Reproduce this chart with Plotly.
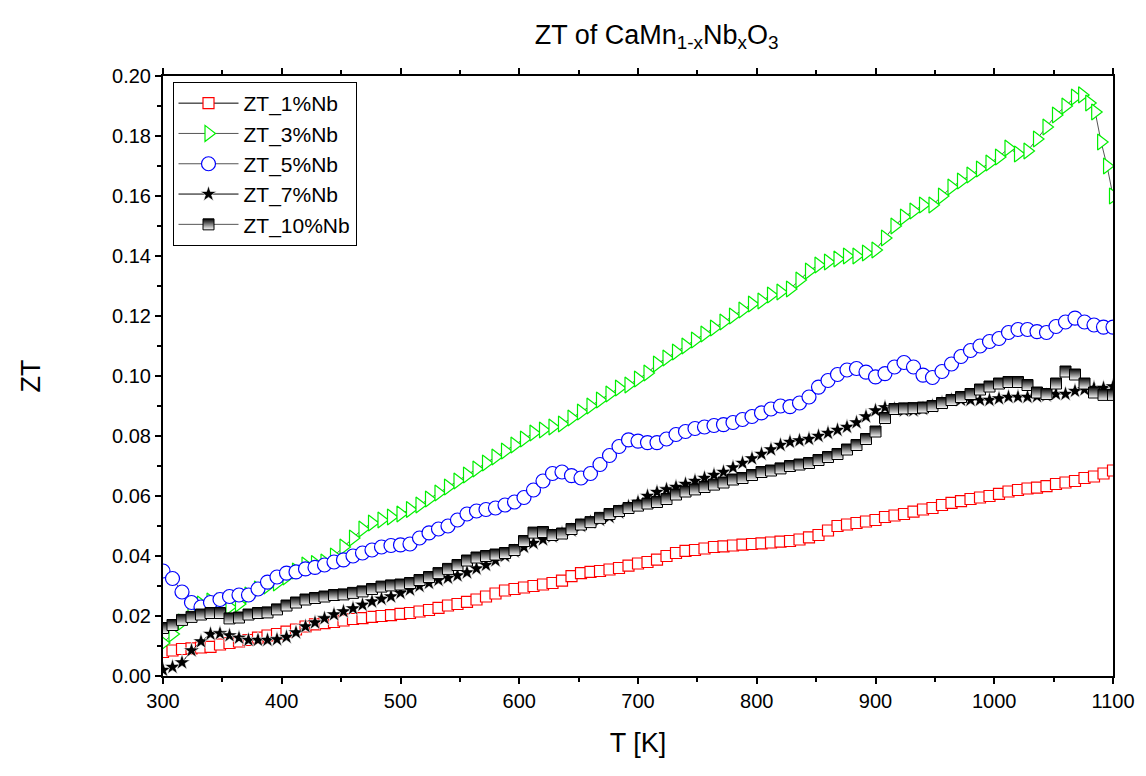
import plotly.graph_objects as go

# Temperature grid (K)
T_GRID = list(range(300, 1101, 8))
T_3_EXTRA = [1068, 1074, 1080, 1085, 1090, 1095, 1100]

ZT_1 = [.008, .0085, .009, .0092, .0095, .0097, .0105, .011, .0115, .012,
        .0128, .0135, .014, .0148, .0155, .0165, .0172, .0176, .018, .0185,
        .019, .0193, .0197, .020, .0203, .0207, .021, .0215, .022, .0227,
        .0235, .024, .0247, .0255, .0265, .0275, .0285, .029, .0295, .030,
        .0305, .031, .0318, .0333, .0343, .0347, .035, .0355, .036, .0368,
        .0375, .038, .0388, .040, .041, .0417, .042, .0425, .043, .0432,
        .0435, .0438, .044, .0442, .0445, .0448, .045, .0455, .0462, .047,
        .0485, .050, .0505, .051, .0515, .052, .053, .0535, .054, .0548,
        .0555, .056, .057, .0577, .0583, .059, .0595, .060, .0607, .0615,
        .062, .0625, .0628, .0633, .064, .0645, .065, .066, .0665, .0675,
        .0685]

ZT_3 = [.011, .014, .018, .021, .024, .025, .025, .023, .024, .027,
        .029, .030, .031, .033, .035, .037, .0375, .038, .040, .043,
        .046, .049, .051, .052, .053, .054, .0555, .057, .059, .061,
        .063, .065, .067, .069, .071, .073, .075, .077, .079, .081,
        .082, .083, .084, .086, .088, .090, .092, .094, .096, .097,
        .099, .101, .104, .106, .108, .110, .112, .114, .116, .118,
        .120, .122, .124, .125, .127, .128, .129, .132, .135, .137,
        .138, .139, .140, .140, .141, .142, .146, .150, .153, .155,
        .157, .157, .160, .163, .165, .167, .169, .171, .173, .176,
        .174, .175, .179, .183, .187, .190,
        .193, .1937, .191, .188, .178, .170, .160]

ZT_5 = [.035, .0325, .028, .0245, .023, .0245, .0255, .0265, .027, .027,
        .029, .0313, .033, .0343, .0347, .0357, .0362, .037, .038, .0387,
        .040, .041, .042, .043, .0435, .0437, .044, .046, .0477, .049,
        .050, .052, .054, .055, .0555, .056, .057, .058, .0595, .062,
        .065, .0675, .068, .0668, .066, .0675, .0705, .0735, .0765, .0787,
        .0783, .0778, .0778, .079, .0805, .0815, .0825, .083, .0835, .0838,
        .0845, .0855, .0865, .0877, .089, .090, .0898, .091, .093, .0963,
        .0985, .1005, .102, .1025, .1013, .0997, .1008, .103, .1045, .103,
        .1003, .0995, .1015, .104, .1065, .1085, .110, .1115, .1125, .1145,
        .1155, .1155, .1148, .1145, .1165, .118, .1193, .118, .117, .1163,
        .1163]

ZT_7 = [.002, .003, .0045, .0085, .0115, .014, .0142, .0135, .0127, .012,
        .012, .012, .0122, .013, .0145, .0165, .0178, .0192, .0205, .0215,
        .0225, .0237, .0248, .0257, .0265, .0277, .0288, .030, .031, .032,
        .0327, .0335, .0345, .0358, .037, .0385, .040, .0415, .043, .0443,
        .0455, .0465, .0475, .0485, .050, .0513, .052, .053, .0545, .0565,
        .058, .060, .0613, .0622, .063, .064, .065, .066, .067, .068,
        .0695, .071, .0725, .074, .0755, .077, .078, .0785, .079, .080,
        .081, .082, .083, .0845, .0865, .0885, .0895, .089, .0885, .0885,
        .089, .090, .091, .092, .092, .092, .092, .092, .0925, .093,
        .093, .093, .0932, .0935, .094, .094, .095, .0955, .096, .096,
        .0965]

ZT_10 = [.016, .017, .0187, .0197, .0205, .021, .021, .0192, .0195, .0205,
         .021, .0212, .0222, .0235, .0245, .0255, .026, .0265, .027, .0272,
         .0277, .0282, .029, .0298, .0302, .0305, .031, .032, .033, .0343,
         .0357, .037, .0385, .0395, .040, .0405, .041, .042, .045, .0478,
         .048, .047, .0475, .049, .0505, .0513, .0527, .054, .055, .056,
         .0568, .0575, .058, .059, .0605, .0615, .0622, .063, .0638, .0645,
         .0655, .066, .067, .068, .0685, .0692, .070, .0705, .071, .072,
         .073, .074, .0755, .077, .079, .0815, .086, .089, .0892, .0893,
         .0895, .090, .091, .092, .093, .094, .0955, .0965, .0975, .098,
         .098, .097, .0945, .094, .0975, .1015, .1005, .0975, .0945, .0937,
         .0937]

T_3 = T_GRID[:96] + T_3_EXTRA

FONT = "Liberation Sans, Arial, sans-serif"

fig = go.Figure()

fig.add_trace(go.Scatter(
    x=T_GRID, y=ZT_1, name="ZT_1%Nb", mode="lines+markers",
    line=dict(color="black", width=1),
    marker=dict(symbol="square", size=11, color="white",
                line=dict(color="#ff0000", width=1.2)),
    legendgroup="a"))

fig.add_trace(go.Scatter(
    x=T_3, y=ZT_3, name="ZT_3%Nb", mode="lines+markers",
    line=dict(color="#555555", width=1),
    marker=dict(symbol="triangle-right", size=14, color="white",
                line=dict(color="#00f000", width=1.2)),
    legendgroup="b"))

fig.add_trace(go.Scatter(
    x=T_GRID, y=ZT_5, name="ZT_5%Nb", mode="lines+markers",
    line=dict(color="#555555", width=1),
    marker=dict(symbol="circle", size=14, color="white",
                line=dict(color="#0000ff", width=1.2)),
    legendgroup="c"))

fig.add_trace(go.Scatter(
    x=T_GRID, y=ZT_7, name="ZT_7%Nb", mode="lines+markers",
    line=dict(color="black", width=1),
    marker=dict(symbol="star", size=12, color="black",
                line=dict(color="white", width=0.6)),
    legendgroup="d"))

fig.add_trace(go.Scatter(
    x=T_GRID, y=ZT_10, name="ZT_10%Nb", mode="lines+markers",
    line=dict(color="#555555", width=1),
    marker=dict(symbol="square", size=11, color="black",
                gradient=dict(type="vertical", color="white"),
                line=dict(color="black", width=1)),
    legendgroup="e"))

fig.update_layout(
    width=1138, height=768,
    margin=dict(l=155, r=33, t=68, b=100),
    paper_bgcolor="white", plot_bgcolor="white",
    font=dict(family=FONT, color="black", size=20),
    title=dict(text="ZT of CaMn<sub>1-x</sub>Nb<sub>x</sub>O<sub>3</sub>",
               x=0.57, xanchor="center", y=0.966, yanchor="middle",
               font=dict(family=FONT, size=27)),
    legend=dict(x=0.01, y=0.99, xanchor="left", yanchor="top",
                bordercolor="black", borderwidth=1, bgcolor="white",
                font=dict(family=FONT, size=21), itemwidth=60,
                tracegroupgap=0),
    showlegend=True,
    yaxis2=dict(overlaying="y", side="right", range=[0, 0.2], dtick=0.02,
                showticklabels=False, showgrid=False, zeroline=False,
                ticks="inside", ticklen=8, tickwidth=1.5, tickcolor="black",
                minor=dict(dtick=0.01, ticks="inside", ticklen=5,
                           tickwidth=1.5, tickcolor="black"),
                showline=False),
)

fig.update_xaxes(
    range=[300, 1100], dtick=100, tick0=300,
    showline=True, linecolor="black", linewidth=2, mirror="ticks",
    ticks="outside", ticklen=6, tickwidth=1.5, tickcolor="black",
    minor=dict(dtick=50, ticks="outside", ticklen=4, tickwidth=1.5, tickcolor="black"),
    showgrid=False, zeroline=False,
    tickfont=dict(family=FONT, size=20),
    title=dict(text="T [K]", font=dict(family=FONT, size=27), standoff=22),
)

fig.update_yaxes(
    selector=dict(overlaying=None),
    range=[0, 0.2], dtick=0.02, tick0=0, tickformat=".2f",
    showline=True, linecolor="black", linewidth=2, mirror=True,
    ticks="outside", ticklen=6, tickwidth=1.5, tickcolor="black",
    minor=dict(dtick=0.01, ticks="outside", ticklen=4, tickwidth=1.5, tickcolor="black"),
    showgrid=False, zeroline=False,
    tickfont=dict(family=FONT, size=20),
    title=dict(text="ZT", font=dict(family=FONT, size=27), standoff=64),
)

fig.write_html("out.html")
